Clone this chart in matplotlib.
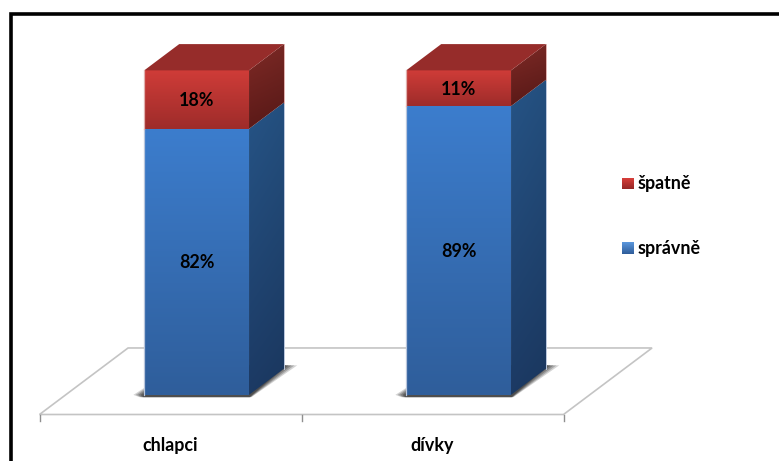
import numpy as np
import matplotlib
matplotlib.use("Agg")
import matplotlib.pyplot as plt
from matplotlib.patches import Polygon

plt.rcParams["font.family"] = ["Lato", "DejaVu Sans"]

categories = ["chlapci", "dívky"]
spravne = [82, 89]
spatne = [18, 11]
series_names = ["správně", "špatně"]

# oblique projection of the floor depth, in category / percent units
DX = 0.338
DY = 20.5
BAR_W = 0.4
D_FRONT = 0.295
D_BACK = 0.69

W, H = 779, 461
PX_CAT = 262.0
PX_PCT = 3.245
FONT = 12.9

fig = plt.figure(figsize=(W / 100, H / 100), dpi=100)
ax = fig.add_axes([0, 0, 1, 1])
ax.set_xlim(-170.5 / PX_CAT, (W - 170.5) / PX_CAT)
ax.set_ylim((414.5 - H) / PX_PCT, 414.5 / PX_PCT)
ax.axis("off")
ax.set_autoscale_on(False)


def pr(x, v, d=0.0):
    return (x + d * DX, v + d * DY)


def gradient(poly, top, bottom, side_fade=0.0, z=3):
    """Fill a polygon with a vertical gradient, optionally darkening to the right."""
    pts = np.array(poly)
    t = np.linspace(0, 1, 64)[:, None]
    s = np.linspace(0, 1, 32)[None, :]
    top, bottom = np.array(top) / 255, np.array(bottom) / 255
    img = np.empty((64, 32, 3))
    for c in range(3):
        img[:, :, c] = (top[c] + (bottom[c] - top[c]) * t) * (1 - side_fade * s)
    extent = (pts[:, 0].min(), pts[:, 0].max(), pts[:, 1].min(), pts[:, 1].max())
    im = ax.imshow(img, extent=extent, origin="upper", aspect="auto", zorder=z,
                   interpolation="bilinear")
    clip = Polygon(pts, closed=True, transform=ax.transData)
    im.set_clip_path(clip)


# floor
floor = [pr(-0.5, 0), pr(1.5, 0), pr(1.5, 0, 1), pr(-0.5, 0, 1)]
ax.add_patch(Polygon(floor, closed=True, fc="white", ec="#c4c4c4", lw=1.2, zorder=1))
for x in [-0.5, 0.5, 1.5]:
    ax.plot([x, x], [0, -2], color="#8f8f8f", lw=1, zorder=1)

# stacked 3D bars
for i, (low, high) in enumerate(zip(spravne, spatne)):
    x0 = i - BAR_W / 2
    x1 = x0 + BAR_W

    # soft shadow on the floor, built from a few nested translucent shapes
    for grow, alpha in [(0.046, 0.22), (0.036, 0.28), (0.026, 0.34), (0.016, 0.42), (0.008, 0.5)]:
        ax.add_patch(Polygon([
            pr(x0 - grow * 0.9, 0, D_FRONT),
            pr(x0 - grow * 0.4, -0.7, D_FRONT),
            pr(x1 + grow * 0.2, -0.7, D_FRONT),
            pr(x1 + grow * 1.1, 1.0, D_BACK),
            pr(x0, 1.0, D_BACK),
        ], closed=True, fc="#3a3a3a", ec="none", alpha=alpha, zorder=2))

    total = low + high
    front_low = [pr(x0, low, D_FRONT), pr(x1, low, D_FRONT),
                 pr(x1, 0, D_FRONT), pr(x0, 0, D_FRONT)]
    front_high = [pr(x0, total, D_FRONT), pr(x1, total, D_FRONT),
                  pr(x1, low, D_FRONT), pr(x0, low, D_FRONT)]
    side_low = [pr(x1, low, D_FRONT), pr(x1, low, D_BACK),
                pr(x1, 0, D_BACK), pr(x1, 0, D_FRONT)]
    side_high = [pr(x1, total, D_FRONT), pr(x1, total, D_BACK),
                 pr(x1, low, D_BACK), pr(x1, low, D_FRONT)]
    roof = [pr(x0, total, D_FRONT), pr(x1, total, D_FRONT),
            pr(x1, total, D_BACK), pr(x0, total, D_BACK)]

    gradient(side_low, (38, 84, 134), (28, 58, 100), side_fade=0.06)
    gradient(side_high, (128, 42, 38), (92, 26, 24), side_fade=0.08, z=3)
    gradient(front_low, (60, 125, 205), (47, 94, 155), z=4)
    gradient(front_high, (207, 60, 56), (158, 44, 42), z=4)
    ax.add_patch(Polygon(roof, closed=True, fc="#962c2a", ec="none", zorder=4))

    # pale rim along the outer edges of the bar
    ax.plot(*zip(pr(x0, 0, D_FRONT), pr(x0, low, D_FRONT)), color="#b9c6dc", lw=0.9, zorder=5)
    ax.plot(*zip(pr(x0, low, D_FRONT), pr(x0, total, D_FRONT)), color="#e0b0ae", lw=0.9, zorder=5)
    ax.plot(*zip(pr(x1, 0, D_BACK), pr(x1, low, D_BACK)), color="#b9c6dc", lw=0.7, zorder=5)
    ax.plot(*zip(pr(x1, low, D_BACK), pr(x1, total, D_BACK)), color="#e0b0ae", lw=0.7, zorder=5)

    xl, yl = pr(i, low / 2, D_FRONT)
    ax.text(xl, yl - 0.3, f"{low}%", ha="center", va="center",
            fontsize=FONT, fontweight="bold", color="black", zorder=6)
    xh, yh = pr(i, low + high / 2, D_FRONT)
    ax.text(xh, yh - 0.3, f"{high}%", ha="center", va="center",
            fontsize=FONT, fontweight="bold", color="black", zorder=6)

# category labels
for i, name in enumerate(categories):
    ax.text(i, -9.6, name, ha="center", va="center", fontsize=FONT,
            fontweight="bold", color="black")

# legend
for name, y, top, bottom in [
    (series_names[1], 183.5, (215, 62, 58), (150, 40, 38)),
    (series_names[0], 248.5, (90, 150, 220), (48, 94, 155)),
]:
    yc = 1 - y / H
    half_w, half_h = 5.5 / W, 5.5 / H
    xc = 627.2 / W
    t = np.linspace(0, 1, 16)[:, None, None]
    img = (np.array(top) + (np.array(bottom) - np.array(top)) * t) / 255
    ax.imshow(img, extent=(xc - half_w, xc + half_w, yc - half_h, yc + half_h),
              transform=ax.transAxes, origin="upper", aspect="auto", zorder=5)
    ax.text(637.5 / W, yc, name, transform=ax.transAxes, ha="left", va="center",
            fontsize=FONT, fontweight="bold", color="black")

# frame around the chart (top and left only reach the picture)
ax.plot([11 / W, 11 / W, 1], [0, 1 - 14.5 / H, 1 - 14.5 / H], transform=ax.transAxes,
        color="black", lw=2.6, solid_joinstyle="miter", solid_capstyle="butt", zorder=8)

fig.savefig("out.png", dpi=100)
